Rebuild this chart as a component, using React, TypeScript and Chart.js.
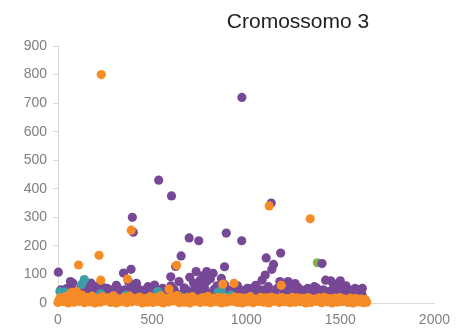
import React, { useEffect, useRef } from "react";
import { Chart, registerables } from "chart.js";

Chart.register(...registerables);

const chartTitle = "Cromossomo 3";
const xTicks = [0, 500, 1000, 1500, 2000];
const yTicks = [0, 100, 200, 300, 400, 500, 600, 700, 800, 900];

// Purple series [x, y]
const purplePoints: [number, number][] = [
  [977, 720], [535, 430], [603, 375], [395, 300], [1133, 350], [400, 248], [697, 228], [748, 218], [894, 245], [976, 218],
  [1183, 175], [1106, 158], [1145, 135], [1136, 118], [1403, 138], [654, 165], [2, 108], [348, 105], [388, 118], [625, 128],
  [885, 127], [599, 92], [734, 110], [790, 110], [824, 104], [1101, 98], [66, 75], [78, 70], [123, 55], [166, 40],
  [175, 70], [201, 57], [228, 42], [261, 51], [296, 48], [374, 75], [417, 69], [410, 45], [478, 57], [513, 63],
  [556, 51], [445, 38], [100, 35], [330, 30], [643, 75], [755, 80], [790, 75], [729, 57], [868, 86], [885, 64],
  [954, 60], [1006, 51], [1040, 40], [1084, 80], [1118, 57], [1179, 75], [1196, 48], [1240, 57], [824, 38], [685, 45],
  [931, 38], [1223, 75], [1275, 55], [1327, 51], [1362, 57], [1422, 80], [1500, 78], [1617, 51], [1465, 60], [1552, 45],
  [1578, 51], [1440, 40], [1517, 40], [1310, 33], [1396, 33], [1449, 78], [1490, 70], [700, 90], [720, 70], [770, 95],
  [810, 85], [760, 60], [845, 60], [310, 62], [600, 60], [1050, 62], [1260, 68], [1530, 60],
  [20, 30], [50, 28], [140, 32], [180, 30], [250, 35], [290, 28], [370, 32], [470, 30], [520, 35], [580, 30],
  [620, 40], [660, 32], [710, 35], [760, 40], [800, 30], [850, 33], [900, 30], [960, 35], [1000, 30], [1060, 32],
  [1090, 45], [1150, 30], [1210, 32], [1260, 35], [1290, 40], [1350, 30], [1380, 40], [1420, 32], [1470, 35], [1540, 30],
  [1590, 32], [1615, 30],
  [15, 46], [45, 50], [85, 44], [150, 52], [210, 47], [240, 54], [275, 44], [320, 50], [355, 46], [390, 53],
  [430, 48], [460, 44], [495, 51], [540, 46], [570, 42], [615, 49], [670, 53], [740, 46], [780, 50], [830, 47],
  [870, 52], [910, 45], [945, 49], [990, 44], [1025, 50], [1070, 46], [1120, 42], [1165, 51], [1205, 45], [1250, 48],
  [1300, 44], [1340, 47], [1375, 52], [1410, 46], [1455, 44], [1505, 50], [1560, 42], [1600, 47],
  [30, 24], [70, 26], [110, 22], [160, 25], [200, 27], [230, 23], [270, 26], [320, 22], [360, 25], [410, 27],
  [450, 23], [500, 26], [550, 22], [600, 25], [640, 27], [680, 23], [730, 26], [780, 22], [820, 25], [860, 27],
  [920, 23], [970, 26], [1020, 22], [1070, 25], [1110, 27], [1160, 23], [1200, 26], [1250, 22], [1300, 25], [1340, 27],
  [1390, 23], [1430, 26], [1480, 22], [1520, 25], [1570, 27], [1605, 23],
];

// Orange series [x, y]
const orangePoints: [number, number][] = [
  [230, 800], [1122, 340], [1340, 295], [389, 255], [218, 167], [109, 133], [630, 132], [227, 80], [369, 84], [935, 69],
  [1186, 62], [590, 49], [876, 66],
  [0, 2], [28, 5], [55, 0], [85, 3], [112, 6], [140, 1], [168, 4], [196, 0], [225, 3], [252, 7],
  [280, 2], [310, 0], [338, 5], [365, 1], [392, 4], [420, 6], [448, 0], [476, 3], [505, 2], [532, 5],
  [560, 0], [590, 4], [618, 7], [645, 1], [672, 3], [700, 0], [728, 6], [756, 2], [785, 4], [812, 1],
  [840, 5], [868, 0], [896, 3], [925, 6], [952, 2], [980, 0], [1008, 4], [1036, 1], [1065, 5], [1092, 3],
  [1120, 0], [1148, 6], [1176, 2], [1205, 4], [1232, 1], [1260, 3], [1288, 5], [1316, 0], [1345, 2], [1372, 6],
  [1400, 1], [1428, 4], [1456, 0], [1485, 3], [1512, 5], [1540, 2], [1568, 0], [1596, 4], [1622, 1], [1640, 3],
  [12, 18], [40, 22], [70, 36], [98, 40], [126, 28], [154, 20], [182, 24], [210, 15], [238, 22], [266, 18],
  [295, 25], [324, 14], [352, 20], [380, 24], [406, 16], [434, 21], [462, 15], [490, 22], [518, 18], [546, 25],
  [575, 16], [604, 22], [632, 26], [660, 17], [686, 20], [714, 22], [742, 14], [770, 19], [798, 23], [826, 16],
  [854, 20], [882, 18], [910, 15], [938, 21], [966, 19], [994, 17], [1022, 22], [1050, 14], [1078, 20], [1106, 18],
  [1134, 21], [1162, 16], [1190, 19], [1218, 15], [1246, 20], [1274, 18], [1302, 16], [1330, 19], [1358, 14], [1386, 18],
  [1414, 20], [1442, 15], [1470, 17], [1498, 19], [1526, 14], [1554, 17], [1582, 16], [1610, 14], [1632, 12],
  [5, 10], [33, 12], [62, 9], [90, 14], [118, 11], [147, 8], [175, 13], [203, 10], [231, 12], [259, 9],
  [288, 11], [316, 14], [344, 8], [372, 12], [400, 10], [428, 13], [456, 9], [484, 11], [512, 12], [540, 8],
  [568, 14], [596, 10], [624, 12], [652, 9], [680, 11], [708, 13], [736, 8], [764, 10], [792, 12], [820, 14],
  [848, 9], [876, 11], [904, 10], [932, 13], [960, 8], [988, 12], [1016, 11], [1044, 9], [1072, 14], [1100, 10],
  [1128, 12], [1156, 8], [1184, 11], [1212, 13], [1240, 9], [1268, 10], [1296, 12], [1324, 14], [1352, 8], [1380, 11],
  [1408, 10], [1436, 9], [1464, 13], [1492, 12], [1520, 8], [1548, 11], [1576, 10], [1604, 9], [1636, 6],
];

// Teal series [x, y]
const tealPoints: [number, number][] = [
  [10, 40], [36, 38], [140, 82], [125, 65], [227, 32], [360, 28], [530, 40], [545, 28], [643, 25], [850, 38],
  [868, 45], [919, 28], [880, 25],
];

// Green series [x, y]
const greenPoints: [number, number][] = [[1378, 141]];

const toPoints = (pts: [number, number][]) => pts.map(([x, y]) => ({ x, y }));

const titlePlugin = {
  id: "offsetTitle",
  afterDraw(chart: any) {
    const ctx = chart.ctx;
    ctx.save();
    ctx.font = "21px 'Liberation Sans', Arial, sans-serif";
    ctx.fillStyle = "#222222";
    ctx.textAlign = "center";
    ctx.textBaseline = "alphabetic";
    ctx.fillText(chartTitle, 298, 28);
    ctx.restore();
  },
};

export default function App() {
  const ref = useRef<HTMLCanvasElement | null>(null);
  useEffect(() => {
    if (!ref.current) return;
    const common = { pointRadius: 4.6, pointHoverRadius: 4.6, borderWidth: 0, pointBorderWidth: 0, showLine: false, clip: false as any };
    const chart = new Chart(ref.current, {
      type: "scatter",
      data: {
        datasets: [
          { label: "orange", data: toPoints(orangePoints), backgroundColor: "#F58C28", pointBackgroundColor: "#F58C28", order: 0, ...common },
          { label: "teal", data: toPoints(tealPoints), backgroundColor: "#3C9FA8", pointBackgroundColor: "#3C9FA8", order: 1, ...common },
          { label: "purple", data: toPoints(purplePoints), backgroundColor: "#774896", pointBackgroundColor: "#774896", order: 2, ...common },
          { label: "green", data: toPoints(greenPoints), backgroundColor: "#7DB548", pointBackgroundColor: "#7DB548", order: 3, ...common },
        ],
      },
      options: {
        animation: false,
        responsive: false,
        maintainAspectRatio: false,
        layout: { padding: { top: 46, right: 16, bottom: 0, left: 0 } },
        plugins: { legend: { display: false }, tooltip: { enabled: false }, title: { display: false } },
        scales: {
          x: {
            type: "linear",
            min: 0,
            max: 2000,
            afterBuildTicks: (axis: any) => { axis.ticks = xTicks.map((v) => ({ value: v })); },
            afterFit: (axis: any) => { axis.height = 26; },
            grid: { drawOnChartArea: false, drawTicks: false },
            border: { display: true, color: "#d9d9d9", width: 1 },
            ticks: {
              padding: 9,
              color: "#808080",
              font: { size: 14, family: "'Liberation Sans', Arial, sans-serif" },
              maxRotation: 0,
              callback: (v: any) => String(v),
            },
          },
          y: {
            type: "linear",
            min: 0,
            max: 900,
            afterBuildTicks: (axis: any) => { axis.ticks = yTicks.map((v) => ({ value: v })); },
            afterFit: (axis: any) => { axis.width = 58; },
            grid: { drawOnChartArea: false, drawTicks: true, tickLength: 5, color: "#d9d9d9" },
            border: { display: true, color: "#d9d9d9", width: 1 },
            ticks: {
              padding: 6,
              color: "#808080",
              font: { size: 14, family: "'Liberation Sans', Arial, sans-serif" },
              callback: (v: any) => String(v),
            },
          },
        },
      },
      plugins: [titlePlugin],
    });
    return () => chart.destroy();
  }, []);
  return (
    <div style={{ position: "fixed", left: 0, top: 0, width: 459, height: 329, background: "#ffffff" }}>
      <canvas ref={ref} width={459} height={329} style={{ width: 459, height: 329 }} />
    </div>
  );
}
